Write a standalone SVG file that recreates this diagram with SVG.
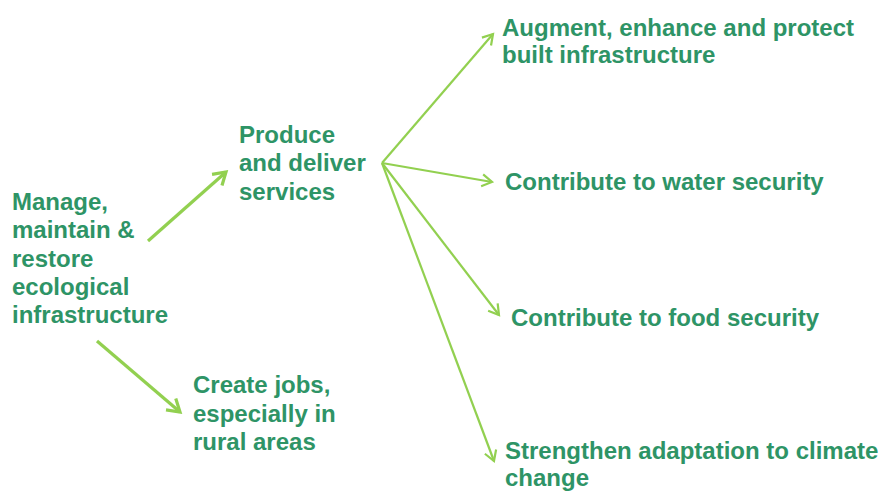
<svg xmlns="http://www.w3.org/2000/svg" width="885" height="493" viewBox="0 0 885 493">
  <defs>
    <style>
      .lbl { font-family: "Liberation Sans", Arial, sans-serif; font-weight: bold; font-size: 24px; fill: #2E9466; }
      .conn { fill: none; stroke: #92D050; stroke-linecap: butt; }
      .thick { stroke-width: 3.2; marker-end: url(#chevBig); }
      .thin { stroke-width: 2.2; marker-end: url(#chev); }
    </style>
    <marker id="chevBig" markerUnits="userSpaceOnUse" viewBox="-14 -9 16 18" markerWidth="16" markerHeight="18" refX="0" refY="0" orient="auto" overflow="visible">
      <path d="M-12,-7.5 L0,0 L-12,7.5" fill="none" stroke="#92D050" stroke-width="3.2" stroke-linejoin="miter"/>
    </marker>
    <marker id="chev" markerUnits="userSpaceOnUse" viewBox="-12 -8 14 16" markerWidth="14" markerHeight="16" refX="0" refY="0" orient="auto" overflow="visible">
      <path d="M-10,-6 L0,0 L-10,6" fill="none" stroke="#92D050" stroke-width="2.2" stroke-linejoin="miter"/>
    </marker>
  </defs>

  <rect width="885" height="493" fill="#FFFFFF"/>

  <!-- connectors -->
  <g id="connectors">
    <line class="conn thick" x1="148" y1="241" x2="226" y2="172"/>
    <line class="conn thick" x1="97" y1="341" x2="180" y2="412"/>
    <line class="conn thin" x1="382" y1="163" x2="493" y2="34"/>
    <line class="conn thin" x1="382" y1="163" x2="492" y2="182"/>
    <line class="conn thin" x1="382" y1="163" x2="499" y2="315"/>
    <line class="conn thin" x1="382" y1="163" x2="494" y2="461"/>
  </g>

  <!-- nodes -->
  <g id="node-manage">
    <text class="lbl" x="12" y="210">Manage,</text>
    <text class="lbl" x="12" y="238">maintain &amp;</text>
    <text class="lbl" x="12" y="267">restore</text>
    <text class="lbl" x="12" y="295">ecological</text>
    <text class="lbl" x="12" y="323">infrastructure</text>
  </g>

  <g id="node-produce">
    <text class="lbl" x="239" y="143">Produce</text>
    <text class="lbl" x="239" y="171">and deliver</text>
    <text class="lbl" x="239" y="200">services</text>
  </g>

  <g id="node-jobs">
    <text class="lbl" x="193" y="393">Create jobs,</text>
    <text class="lbl" x="193" y="422">especially in</text>
    <text class="lbl" x="193" y="450">rural areas</text>
  </g>

  <g id="node-built">
    <text class="lbl" x="502" y="36">Augment, enhance and protect</text>
    <text class="lbl" x="502" y="63">built infrastructure</text>
  </g>

  <g id="node-water">
    <text class="lbl" x="505" y="190">Contribute to water security</text>
  </g>

  <g id="node-food">
    <text class="lbl" x="511" y="326">Contribute to food security</text>
  </g>

  <g id="node-climate">
    <text class="lbl" x="505" y="459">Strengthen adaptation to climate</text>
    <text class="lbl" x="505" y="486">change</text>
  </g>
</svg>
